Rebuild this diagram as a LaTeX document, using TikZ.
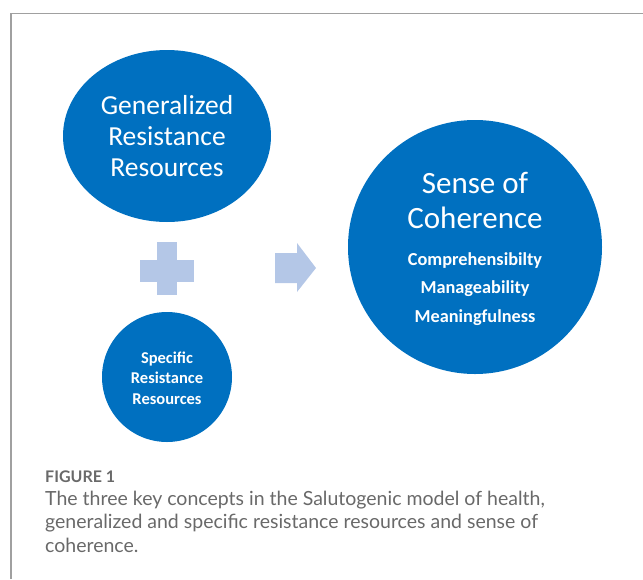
\documentclass[tikz,border=0pt]{standalone}
\usepackage{fontspec}
\setmainfont{Carlito}
\newfontfamily\capfont{Lato}
\usetikzlibrary{shapes.geometric,shapes.arrows}
\definecolor{cblue}{RGB}{0,112,192}
\definecolor{clight}{RGB}{180,199,231}
\definecolor{cframe}{RGB}{160,160,160}
\definecolor{ccap}{RGB}{105,105,105}
\tikzset{
  bubble/.style={fill=cblue, draw=none, text=white, align=center, inner sep=0pt},
  sign/.style={fill=clight, draw=none},
  captext/.style={anchor=base west, text=ccap, inner sep=0pt, font=\capfont\fontsize{19.5}{23}\selectfont}
}
\begin{document}
\begin{tikzpicture}[x=1pt,y=-1pt]
\useasboundingbox (0,0) rectangle (643,579);
% frame
\draw[cframe, line width=1.3pt] (11,579) -- (11,13.5) -- (643,13.5);
% circles
\node[bubble, ellipse, minimum width=208, minimum height=172] (grr) at (167,136) {};
\node[bubble, circle, minimum size=130] (srr) at (167,377) {};
\node[bubble, circle, minimum size=254] (soc) at (475,247) {};
% texts inside
\node[text=white, font=\fontsize{27.5}{31}\selectfont, align=center] (grrt) at (167,136) {Generalized\\Resistance\\Resources};
\node[text=white, font=\bfseries\fontsize{16.5}{20.5}\selectfont, align=center] (srrt) at (167,378) {Specific\\Resistance\\Resources};
\node[text=white, font=\fontsize{31}{35}\selectfont, align=center] (soct) at (475,200) {Sense of\\Coherence};
\node[text=white, font=\bfseries\fontsize{18.3}{28.5}\selectfont, align=center] (socs) at (475,289) {Comprehensibilty\\Manageability\\Meaningfulness};
% plus sign
\fill[sign] (157,242) rectangle (177,295);
\fill[sign] (140,260) rectangle (194,282);
\node[inner sep=0pt] (plus) at (167,269) {};
% arrow
\fill[sign] (275,253) -- (297,253) -- (297,243) -- (316,268) -- (297,292) -- (297,283) -- (275,283) -- cycle;
\node[inner sep=0pt] (arr) at (295,268) {};
% caption
\node[captext, font=\capfont\bfseries\fontsize{16}{18}\selectfont] (fig) at (45,482) {FIGURE 1};
\node[captext] (cap1) at (45,505.5) {The three key concepts in the Salutogenic model of health,};
\node[captext] (cap2) at (45,528.8) {generalized and specific resistance resources and sense of};
\node[captext] (cap3) at (45,552.1) {coherence.};
\end{tikzpicture}
\end{document}
